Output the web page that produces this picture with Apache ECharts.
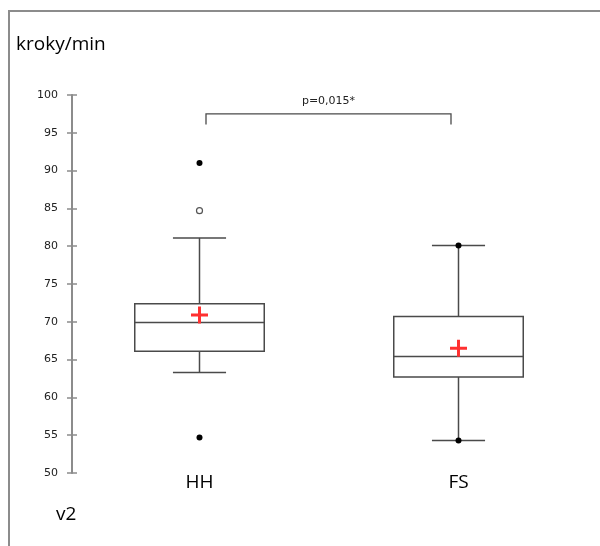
<!DOCTYPE html>
<html>
<head>
<meta charset="utf-8">
<script src="https://cdn.jsdelivr.net/npm/echarts@6/dist/echarts.min.js"></script>
<style>html,body{margin:0;padding:0;background:#fff;}#c{width:600px;height:546px;}</style>
</head>
<body>
<div id="c"></div>
<script>
const categories = ['HH', 'FS'];
const lowerWhisker = [63.3, 54.3];
const q1 = [66.1, 62.7];
const median = [69.9, 65.4];
const q3 = [72.4, 70.7];
const upperWhisker = [81.1, 80.1];
const means = [70.9, 66.5];
const filledPoints = [[0, 91.0], [0, 54.7], [1, 80.1], [1, 54.3]];
const openPoints = [[0, 84.7]];
const yTicks = [50, 55, 60, 65, 70, 75, 80, 85, 90, 95, 100];
const pLabel = 'p=0,015*';
const bracketY = [97.5, 96.1];

const boxData = categories.map((c, i) => [i, lowerWhisker[i], q1[i], median[i], q3[i], upperWhisker[i]]);
const chart = echarts.init(document.getElementById('c'));
const lineCol = '#4a4a4a';
const axisCol = '#8c8c8c';

chart.setOption({
  animation: false,
  title: {
    text: 'kroky/min', left: 11, top: 30,
    textStyle: { fontFamily: 'Open Sans', fontSize: 19, fontWeight: 'normal', color: '#000' }
  },
  graphic: [
    { type: 'rect', shape: { x: 9, y: 11, width: 800, height: 800 }, style: { fill: 'none', stroke: axisCol, lineWidth: 2 } },
    { type: 'text', left: 56, top: 505, style: { text: 'v2', fontFamily: 'Open Sans', fontSize: 19, fill: '#000' } }
  ],
  grid: { left: 70, width: 518, top: 95, bottom: 73 },
  xAxis: {
    type: 'category', data: categories, boundaryGap: true,
    axisLine: { show: false }, axisTick: { show: false },
    axisLabel: { fontFamily: 'Open Sans', fontSize: 19, color: '#000', margin: 0 }
  },
  yAxis: [
    {
      type: 'value', min: 50, max: 100, interval: 5, offset: -2,
      splitLine: { show: false },
      axisLine: { show: true, lineStyle: { color: axisCol, width: 2 } },
      axisTick: { show: true, length: 5, lineStyle: { color: axisCol, width: 1.5 } },
      axisLabel: { fontFamily: 'DejaVu Sans', fontSize: 11, color: '#222', margin: 14,
        formatter: v => yTicks.includes(v) ? String(v) : '' }
    },
    {
      type: 'value', min: 50, max: 100, interval: 5, offset: -2, position: 'left',
      splitLine: { show: false },
      axisLine: { show: false },
      axisTick: { show: true, inside: true, length: 5, lineStyle: { color: axisCol, width: 1.5 } },
      axisLabel: { show: false }
    }
  ],
  series: [
    {
      type: 'custom', yAxisIndex: 0, data: boxData,
      renderItem: function (params, api) {
        const x = api.value(0);
        const band = api.size([1, 0])[0];
        const bw = band * 0.5;
        const cw = bw * 0.41;
        const pL = api.coord([x, api.value(1)]);
        const p1 = api.coord([x, api.value(2)]);
        const pM = api.coord([x, api.value(3)]);
        const p3 = api.coord([x, api.value(4)]);
        const pH = api.coord([x, api.value(5)]);
        const cx = pM[0];
        const st = { stroke: lineCol, lineWidth: 1.5, fill: 'none' };
        return {
          type: 'group', children: [
            { type: 'line', shape: { x1: cx, y1: pH[1], x2: cx, y2: p3[1] }, style: st },
            { type: 'line', shape: { x1: cx, y1: p1[1], x2: cx, y2: pL[1] }, style: st },
            { type: 'line', shape: { x1: cx - cw / 2, y1: pH[1], x2: cx + cw / 2, y2: pH[1] }, style: st },
            { type: 'line', shape: { x1: cx - cw / 2, y1: pL[1], x2: cx + cw / 2, y2: pL[1] }, style: st },
            { type: 'rect', shape: { x: cx - bw / 2, y: p3[1], width: bw, height: p1[1] - p3[1] }, style: { stroke: lineCol, lineWidth: 1.5, fill: '#fff' } },
            { type: 'line', shape: { x1: cx - bw / 2, y1: pM[1], x2: cx + bw / 2, y2: pM[1] }, style: st }
          ]
        };
      }
    },
    {
      type: 'custom', yAxisIndex: 0, data: [[0, 1, bracketY[0], bracketY[1]]],
      renderItem: function (params, api) {
        const a = api.coord([api.value(0), api.value(2)]);
        const b = api.coord([api.value(1), api.value(2)]);
        const t = api.coord([api.value(0), api.value(3)]);
        const xl = a[0] + 6.5, xr = b[0] - 7.5;
        const st = { stroke: lineCol, lineWidth: 1.3, fill: 'none' };
        return {
          type: 'group', children: [
            { type: 'polyline', shape: { points: [[xl, t[1]], [xl, a[1]], [xr, a[1]], [xr, t[1]]] }, style: st },
            { type: 'text', style: { text: pLabel, x: (xl + xr) / 2, y: a[1] - 7, align: 'center', verticalAlign: 'bottom', fontFamily: 'DejaVu Sans', fontSize: 11, fill: '#222' } }
          ]
        };
      }
    },
    {
      type: 'scatter', yAxisIndex: 0, data: filledPoints, symbol: 'circle', symbolSize: 6,
      itemStyle: { color: '#000', opacity: 1 }, z: 5
    },
    {
      type: 'scatter', yAxisIndex: 0, data: openPoints, symbol: 'circle', symbolSize: 6,
      itemStyle: { color: '#fff', borderColor: '#555', borderWidth: 1.2, opacity: 1 }, z: 5
    },
    {
      type: 'scatter', yAxisIndex: 0, data: means.map((m, i) => [i, m]),
      symbol: 'path://M-1.4,-8H1.4V-1.4H8V1.4H1.4V8H-1.4V1.4H-8V-1.4H-1.4Z', symbolSize: 17,
      itemStyle: { color: '#ff3030', opacity: 1 }, z: 6
    }
  ]
});
</script>
</body>
</html>
